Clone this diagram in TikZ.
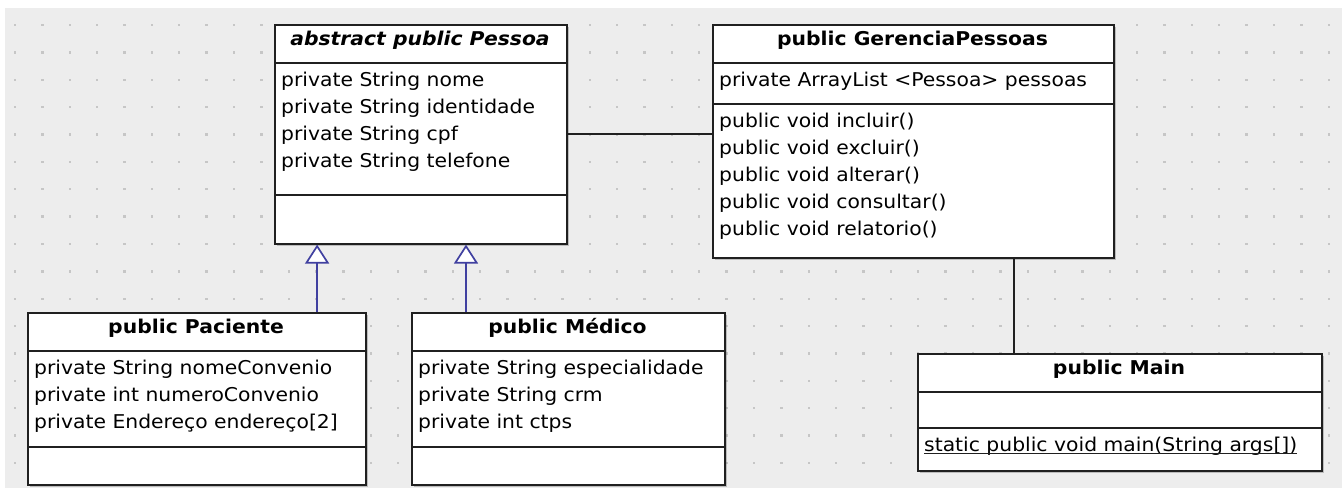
\documentclass[tikz,border=0pt]{standalone}
\usepackage{fontspec}
\setmainfont{DejaVu Sans}[FakeStretch=1.07]
\usetikzlibrary{arrows.meta,shadows}
\definecolor{bggray}{HTML}{EDEDED}
\definecolor{dotgray}{HTML}{C6C6C6}
\definecolor{edge}{HTML}{202020}
\definecolor{umlblue}{HTML}{4040A0}
\begin{document}
\begin{tikzpicture}[x=1pt,y=-1pt,
  classbox/.style={draw=edge, fill=white, line width=1.6pt, inner sep=0pt, anchor=north west,
    drop shadow={shadow xshift=2pt, shadow yshift=-2pt, opacity=0.3, fill=black!70}},
  divider/.style={draw=edge, line width=1.6pt},
  txt/.style={inner sep=0pt, anchor=base west, font=\fontsize{19}{23}\selectfont},
  ctitle/.style={inner sep=0pt, anchor=base, font=\fontsize{19}{23}\selectfont\bfseries},
  assoc/.style={draw=edge, line width=1.9pt},
  inherit/.style={draw=umlblue, line width=1.7pt, -{Triangle[length=19pt,width=24pt,fill=white]}}
]
\useasboundingbox (0,0) rectangle (1342,488);
\fill[bggray] (5,8) rectangle (1342,488);
\foreach \i in {0,...,48} {
  \foreach \j in {0,...,16} {
    \fill[dotgray] ({15+27.37*\i-1.2},{25+27.37*\j-1.2}) rectangle ++(2.4,2.4);
  }
}

% ---- Pessoa
\node[classbox, minimum width=292pt, minimum height=219pt] (pessoa) at (274,24) {};
\draw[divider] (pessoa.west |- 0,63) -- (pessoa.east |- 0,63);
\draw[divider] (pessoa.west |- 0,195) -- (pessoa.east |- 0,195);
\node[ctitle, font=\fontsize{19}{23}\selectfont\bfseries\itshape] (pessoaT) at (420,45) {abstract public Pessoa};
\node[txt] (pa1) at (281,86.5) {private String nome};
\node[txt] (pa2) at (281,113.5) {private String identidade};
\node[txt] (pa3) at (281,140.5) {private String cpf};
\node[txt] (pa4) at (281,167.5) {private String telefone};

% ---- GerenciaPessoas
\node[classbox, minimum width=401pt, minimum height=233pt] (ger) at (712,24) {};
\draw[divider] (ger.west |- 0,63) -- (ger.east |- 0,63);
\draw[divider] (ger.west |- 0,104) -- (ger.east |- 0,104);
\node[ctitle] (gerT) at (912.5,45.5) {public GerenciaPessoas};
\node[txt] (ga1) at (719,86.5) {private ArrayList <Pessoa> pessoas};
\node[txt] (gm1) at (719,127.5) {public void incluir()};
\node[txt] (gm2) at (719,154.5) {public void excluir()};
\node[txt] (gm3) at (719,181.5) {public void alterar()};
\node[txt] (gm4) at (719,208.5) {public void consultar()};
\node[txt] (gm5) at (719,235.5) {public void relatorio()};

% ---- Paciente
\node[classbox, minimum width=338pt, minimum height=172pt] (pac) at (27,312) {};
\draw[divider] (pac.west |- 0,351) -- (pac.east |- 0,351);
\draw[divider] (pac.west |- 0,447) -- (pac.east |- 0,447);
\node[ctitle] (pacT) at (196,333) {public Paciente};
\node[txt] (pc1) at (34,374) {private String nomeConvenio};
\node[txt] (pc2) at (34,401) {private int numeroConvenio};
\node[txt] (pc3) at (34,428) {private Endereço endereço[2]};

% ---- Medico
\node[classbox, minimum width=313pt, minimum height=172pt] (med) at (411,312) {};
\draw[divider] (med.west |- 0,351) -- (med.east |- 0,351);
\draw[divider] (med.west |- 0,447) -- (med.east |- 0,447);
\node[ctitle] (medT) at (567.5,333) {public Médico};
\node[txt] (md1) at (418,374) {private String especialidade};
\node[txt] (md2) at (418,401) {private String crm};
\node[txt] (md3) at (418,428) {private int ctps};

% ---- Main
\node[classbox, minimum width=404pt, minimum height=117pt] (main) at (917,353) {};
\draw[divider] (main.west |- 0,392) -- (main.east |- 0,392);
\draw[divider] (main.west |- 0,428) -- (main.east |- 0,428);
\node[ctitle] (mainT) at (1119,374) {public Main};
\node[txt] (mm1) at (924,451) {static public void main(String args[])};
\draw[line width=1.1pt, draw=edge] ([yshift=-2.2pt]mm1.base west) -- ([yshift=-2.2pt]mm1.base east);

% ---- connectors
\draw[assoc] (pessoa.east) -- (pessoa.east -| ger.west);
\draw[assoc] ([xshift=-100.5pt]ger.south east) -- ([xshift=-100.5pt]ger.south east |- main.north);
\draw[inherit] ([xshift=-49.5pt]pac.north east) -- ([xshift=-49.5pt]pac.north east |- pessoa.south);
\draw[inherit] ([xshift=55pt]med.north west) -- ([xshift=55pt]med.north west |- pessoa.south);
\end{tikzpicture}
\end{document}
